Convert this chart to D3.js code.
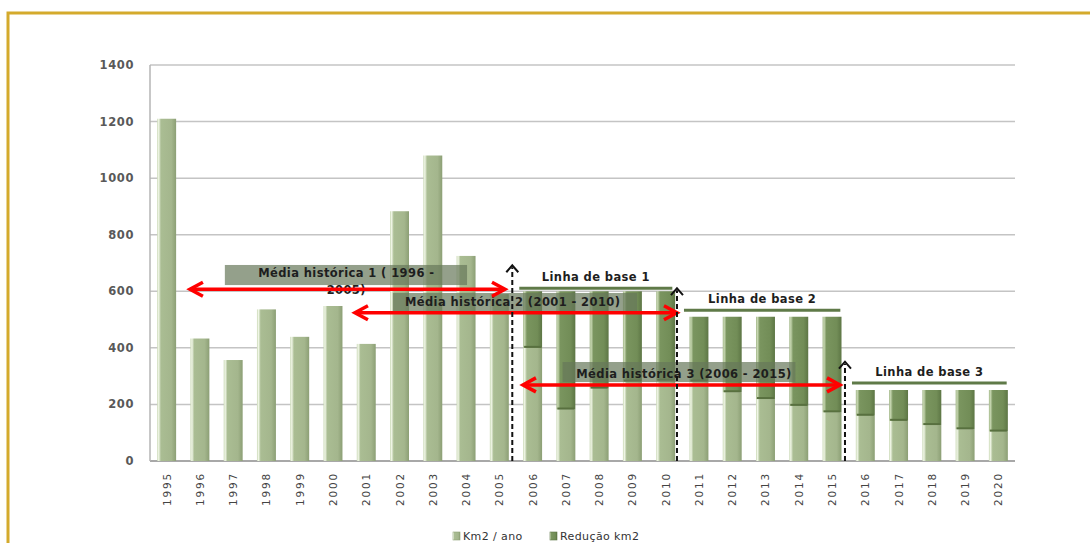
<!DOCTYPE html>
<html>
<head>
<meta charset="utf-8">
<script src="https://cdn.jsdelivr.net/npm/d3@7"></script>
<style>
  body { margin: 0; background: #fff; }
  svg { display: block; }
</style>
</head>
<body>
<div id="chart"></div>
<script>
// data
var years = ["1995", "1996", "1997", "1998", "1999", "2000", "2001", "2002", "2003",
  "2004", "2005", "2006", "2007", "2008", "2009", "2010", "2011", "2012", "2013",
  "2014", "2015", "2016", "2017", "2018", "2019", "2020"]

var km2Ano = [1210, 433, 357, 536, 439, 548, 414, 883, 1080, 725, 590, 400, 182, 256,
  281, 284, 281, 243, 219, 195, 172, 160, 142, 127, 112, 104]

var reducao = [0, 0, 0, 0, 0, 0, 0, 0, 0, 0, 0, 200, 418, 344, 319, 316, 229, 267, 291,
  315, 338, 91, 109, 124, 139, 147]

var yTicks = [0, 200, 400, 600, 800, 1000, 1200, 1400]

var seriesNames = ["Km2 / ano", "Redução km2"]

// annotations, anchored on years (fractional) and values
var medias = [
  {lines: ["Média histórica 1 ( 1996 -", "2005)"], box: [1996.75, 2004.03, 693, 622], textAt: [2000.4, 666], arrow: [1995.7, 2005.17, 607]},
  {lines: ["Média histórica 2 (2001 - 2010)"], box: [2001.8, 2009.14, 594, 530], textAt: [2005.4, 562], arrow: [2000.66, 2010.34, 524]},
  {lines: ["Média histórica 3 (2006 - 2015)"], box: [2006.9, 2013.9, 350, 279], textAt: [2010.55, 307], arrow: [2005.71, 2015.24, 269]}
]

var baseLines = [
  {label: "Linha de base 1", from: 2005.6, to: 2010.2, value: 611, tip: 692},
  {label: "Linha de base 2", from: 2010.55, to: 2015.25, value: 533, tip: 611},
  {label: "Linha de base 3", from: 2015.6, to: 2020.25, value: 276, tip: 351}
]

// layout
var W = 1090, H = 543
var plot = {left: 150, right: 1015, top: 65, bottom: 461}

var svg = d3.select("#chart")
  .append("svg")
    .attr("width", W)
    .attr("height", H)

// golden frame
svg.append("rect")
  .attr("x", 8)
  .attr("y", 13)
  .attr("width", W + 40)
  .attr("height", H + 40)
  .attr("fill", "none")
  .attr("stroke", "#d4aa2c")
  .attr("stroke-width", 3)

var x = d3.scaleBand()
  .domain(years)
  .range([plot.left, plot.right])
  .paddingInner(0.43)
  .paddingOuter(0.215)

var y = d3.scaleLinear()
  .domain([0, 1400])
  .range([plot.bottom, plot.top])

// fractional year -> pixel, through band centres
var xAt = d3.scaleLinear()
  .domain([1995, 2020])
  .range([x("1995") + x.bandwidth() / 2, x("2020") + x.bandwidth() / 2])

// gradients for the cylinder look
var defs = svg.append("defs")
function grad(id, stops) {
  var g = defs.append("linearGradient").attr("id", id)
    .attr("x1", "0%").attr("x2", "100%").attr("y1", "0%").attr("y2", "0%")
  stops.forEach(function(s) {
    g.append("stop").attr("offset", s[0]).attr("stop-color", s[1])
  })
}
grad("gLight", [["0%", "#c9d8b5"], ["8%", "#f0f6e6"], ["20%", "#aabd93"], ["75%", "#a4b68d"], ["100%", "#8c9f75"]])
grad("gDark", [["0%", "#a3b88a"], ["8%", "#c6d6b0"], ["20%", "#7a955f"], ["75%", "#728d57"], ["100%", "#5d7645"]])

// grid
svg.append("g")
  .selectAll("line")
  .data(yTicks)
  .join("line")
    .attr("x1", plot.left)
    .attr("x2", plot.right)
    .attr("y1", function(d) { return y(d) })
    .attr("y2", function(d) { return y(d) })
    .attr("stroke", function(d) { return d === 0 ? "#a8a8a8" : "#c4c4c4" })
    .attr("stroke-width", function(d) { return d === 0 ? 2 : 1.5 })

svg.append("line")
  .attr("x1", plot.left).attr("x2", plot.left)
  .attr("y1", plot.top).attr("y2", plot.bottom)
  .attr("stroke", "#b4b4b4")
  .attr("stroke-width", 1.5)

// y axis labels
svg.append("g")
  .selectAll("text")
  .data(yTicks)
  .join("text")
    .attr("x", 134)
    .attr("y", function(d) { return y(d) + 4 })
    .attr("text-anchor", "end")
    .attr("font-family", "DejaVu Sans")
    .attr("font-weight", "bold")
    .attr("font-size", 11.5)
    .attr("letter-spacing", 0.6)
    .attr("fill", "#595959")
    .text(function(d) { return d })

// bars
var bars = svg.append("g")
bars.selectAll("rect.km")
  .data(years)
  .join("rect")
    .attr("class", "km")
    .attr("x", function(d) { return x(d) })
    .attr("width", x.bandwidth())
    .attr("y", function(d, i) { return y(km2Ano[i]) })
    .attr("height", function(d, i) { return y(0) - y(km2Ano[i]) })
    .attr("fill", "url(#gLight)")

bars.selectAll("rect.red")
  .data(years.filter(function(d, i) { return reducao[i] > 0 }))
  .join("rect")
    .attr("class", "red")
    .attr("x", function(d) { return x(d) })
    .attr("width", x.bandwidth())
    .attr("y", function(d) { var i = years.indexOf(d); return y(km2Ano[i] + reducao[i]) })
    .attr("height", function(d) { var i = years.indexOf(d); return y(km2Ano[i]) - y(km2Ano[i] + reducao[i]) })
    .attr("fill", "url(#gDark)")

// divider line between the two parts
bars.selectAll("line.div")
  .data(years.filter(function(d, i) { return reducao[i] > 0 }))
  .join("line")
    .attr("class", "div")
    .attr("x1", function(d) { return x(d) + 1 })
    .attr("x2", function(d) { return x(d) + x.bandwidth() - 1 })
    .attr("y1", function(d) { return y(km2Ano[years.indexOf(d)]) - 1 })
    .attr("y2", function(d) { return y(km2Ano[years.indexOf(d)]) - 1 })
    .attr("stroke", "#58703f")
    .attr("stroke-width", 2)

// x axis labels
svg.append("g")
  .selectAll("text")
  .data(years)
  .join("text")
    .attr("transform", function(d) {
      return "translate(" + (x(d) + x.bandwidth() / 2 + 4) + "," + 472 + ") rotate(-90)"
    })
    .attr("text-anchor", "end")
    .attr("font-family", "DejaVu Sans")
    .attr("font-size", 10.5)
    .attr("letter-spacing", 1.8)
    .attr("fill", "#444")
    .text(function(d) { return d })

// media historica boxes
var ann = svg.append("g")
medias.forEach(function(m) {
  ann.append("rect")
    .attr("x", xAt(m.box[0]))
    .attr("y", y(m.box[2]))
    .attr("width", xAt(m.box[1]) - xAt(m.box[0]))
    .attr("height", y(m.box[3]) - y(m.box[2]))
    .attr("fill", "#66775a")
    .attr("opacity", 0.7)
})
medias.forEach(function(m) {
  m.lines.forEach(function(t, k) {
    ann.append("text")
      .attr("x", xAt(m.textAt[0]))
      .attr("y", y(m.textAt[1]) + 4 + k * 17)
      .attr("text-anchor", "middle")
      .attr("font-family", "DejaVu Sans")
      .attr("font-weight", "bold")
      .attr("font-size", 11.5)
      .attr("letter-spacing", 0.4)
      .attr("fill", "#1e1e1e")
      .text(t)
  })
})

// red double arrows
function chevron(px, py, dir) {
  // dir = -1 points left, 1 points right
  return "M" + (px - dir * 13) + "," + (py - 7) + "L" + px + "," + py + "L" + (px - dir * 13) + "," + (py + 7)
}
medias.forEach(function(m) {
  var x0 = xAt(m.arrow[0]), x1 = xAt(m.arrow[1]), yy = y(m.arrow[2])
  ann.append("line")
    .attr("x1", x0 + 2).attr("x2", x1 - 2)
    .attr("y1", yy).attr("y2", yy)
    .attr("stroke", "#ff0000")
    .attr("stroke-width", 3.5)
  ann.append("path").attr("d", chevron(x0, yy, -1))
    .attr("fill", "none").attr("stroke", "#ff0000").attr("stroke-width", 3.5)
  ann.append("path").attr("d", chevron(x1, yy, 1))
    .attr("fill", "none").attr("stroke", "#ff0000").attr("stroke-width", 3.5)
})

// baselines
baseLines.forEach(function(b) {
  ann.append("line")
    .attr("x1", xAt(b.from)).attr("x2", xAt(b.to))
    .attr("y1", y(b.value)).attr("y2", y(b.value))
    .attr("stroke", "#5f7a48")
    .attr("stroke-width", 3)
  ann.append("text")
    .attr("x", (xAt(b.from) + xAt(b.to)) / 2)
    .attr("y", y(b.value) - 7)
    .attr("text-anchor", "middle")
    .attr("font-family", "DejaVu Sans")
    .attr("font-weight", "bold")
    .attr("font-size", 11.5)
    .attr("letter-spacing", 0.4)
    .attr("fill", "#1e1e1e")
    .text(b.label)
})

// dashed vertical arrows, just left of each baseline
baseLines.forEach(function(b) {
  var px = xAt(b.from) - 7
  ann.append("line")
    .attr("x1", px).attr("x2", px)
    .attr("y1", y(0)).attr("y2", y(b.tip) + 2)
    .attr("stroke", "#111")
    .attr("stroke-width", 2)
    .attr("stroke-dasharray", "5,3")
  ann.append("path")
    .attr("d", "M" + (px - 6) + "," + (y(b.tip) + 7) + "L" + px + "," + y(b.tip) + "L" + (px + 6) + "," + (y(b.tip) + 7))
    .attr("fill", "none")
    .attr("stroke", "#111")
    .attr("stroke-width", 2)
})

// legend
var legend = svg.append("g")
var legX = [453, 550]
seriesNames.forEach(function(s, i) {
  legend.append("rect")
    .attr("x", legX[i])
    .attr("y", 532)
    .attr("width", 7)
    .attr("height", 8)
    .attr("fill", i === 0 ? "url(#gLight)" : "url(#gDark)")
    .attr("stroke", i === 0 ? "#8ea176" : "#5d7645")
    .attr("stroke-width", 0.6)
  legend.append("text")
    .attr("x", legX[i] + 10)
    .attr("y", 540)
    .attr("font-family", "DejaVu Sans")
    .attr("font-size", 11)
    .attr("letter-spacing", 0.4)
    .attr("fill", "#333")
    .text(s)
})
</script>
</body>
</html>
